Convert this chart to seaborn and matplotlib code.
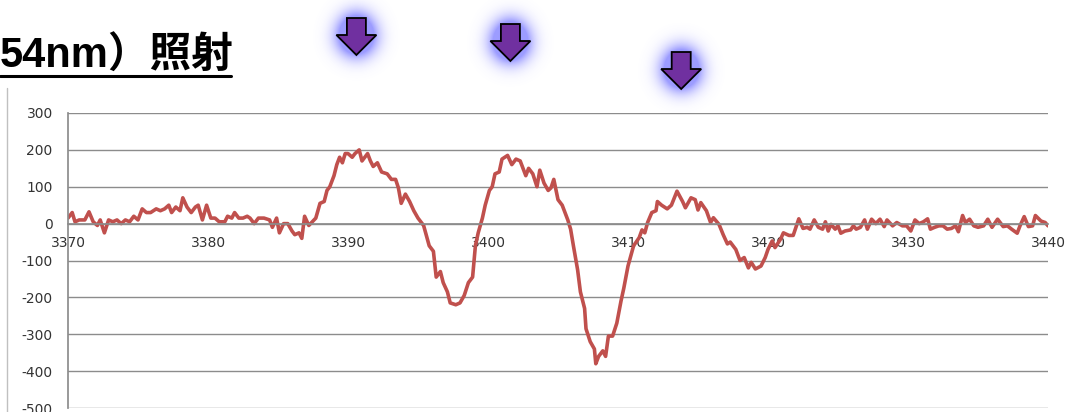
import numpy as np
import pandas as pd
import matplotlib
matplotlib.use("Agg")
import matplotlib.pyplot as plt
import seaborn as sns
from matplotlib.path import Path
from matplotlib.patches import Polygon
from matplotlib.lines import Line2D

# 磁場 (G) と信号強度 — 画像から読み取った値
field = [
    3370.0, 3370.3, 3370.5, 3370.8, 3371.2, 3371.5, 3371.8, 3372.1, 3372.3, 3372.6,
    3372.9, 3373.2, 3373.5, 3373.8, 3374.1, 3374.4, 3374.7, 3375.0, 3375.3, 3375.6,
    3375.9, 3376.3, 3376.6, 3376.9, 3377.2, 3377.4, 3377.7, 3378.0, 3378.2, 3378.5,
    3378.8, 3379.1, 3379.3, 3379.6, 3379.9, 3380.2, 3380.5, 3380.8, 3381.2, 3381.4,
    3381.7, 3381.9, 3382.2, 3382.5, 3382.8, 3383.0, 3383.3, 3383.6, 3384.0, 3384.4,
    3384.6, 3384.9, 3385.1, 3385.4, 3385.7, 3386.0, 3386.2, 3386.5, 3386.7, 3386.9,
    3387.2, 3387.7, 3388.0, 3388.3, 3388.5, 3388.7, 3389.0, 3389.2, 3389.4, 3389.6,
    3389.8, 3390.0, 3390.3, 3390.5, 3390.8, 3391.0, 3391.4, 3391.6, 3391.8, 3392.1,
    3392.4, 3392.8, 3393.1, 3393.4, 3393.6, 3393.8, 3394.1, 3394.4, 3394.7, 3395.0,
    3395.4, 3395.8, 3396.1, 3396.3, 3396.6, 3396.8, 3397.1, 3397.3, 3397.7, 3398.0,
    3398.3, 3398.6, 3398.9, 3399.1, 3399.3, 3399.6, 3399.8, 3400.1, 3400.3, 3400.5,
    3400.8, 3401.0, 3401.4, 3401.7, 3402.0, 3402.3, 3402.7, 3402.9, 3403.2, 3403.5,
    3403.7, 3404.0, 3404.3, 3404.5, 3404.7, 3405.0, 3405.3, 3405.7, 3405.9, 3406.1,
    3406.4, 3406.6, 3406.9, 3407.0, 3407.3, 3407.6, 3407.7, 3407.9, 3408.2, 3408.4,
    3408.6, 3408.9, 3409.2, 3409.5, 3409.7, 3410.0, 3410.4, 3410.8, 3411.0, 3411.2,
    3411.4, 3411.7, 3412.0, 3412.1, 3412.4, 3412.8, 3413.1, 3413.5, 3413.9, 3414.1,
    3414.5, 3414.8, 3415.0, 3415.2, 3415.6, 3415.9, 3416.1, 3416.5, 3416.8, 3417.1,
    3417.3, 3417.7, 3418.0, 3418.3, 3418.6, 3418.8, 3419.1, 3419.5, 3419.8, 3420.0,
    3420.3, 3420.5, 3420.9, 3421.1, 3421.5, 3421.8, 3422.2, 3422.5, 3422.8, 3423.0,
    3423.3, 3423.6, 3423.9, 3424.1, 3424.3, 3424.5, 3424.8, 3425.0, 3425.2, 3425.5,
    3425.9, 3426.1, 3426.3, 3426.6, 3426.9, 3427.1, 3427.4, 3427.7, 3428.0, 3428.3,
    3428.5, 3428.9, 3429.2, 3429.6, 3429.9, 3430.2, 3430.5, 3430.8, 3431.1, 3431.4,
    3431.6, 3431.9, 3432.2, 3432.5, 3432.8, 3433.1, 3433.4, 3433.6, 3433.9, 3434.1,
    3434.4, 3434.7, 3435.0, 3435.4, 3435.7, 3436.0, 3436.4, 3436.8, 3437.1, 3437.4,
    3437.8, 3438.0, 3438.3, 3438.6, 3438.9, 3439.1, 3439.5, 3439.8, 3440.0,
]
signal = [
    15, 30, 5, 10, 10, 32, 5, -5, 10, -25,
    10, 5, 10, 0, 10, 5, 20, 10, 40, 30,
    30, 40, 35, 40, 50, 30, 45, 35, 70, 45,
    30, 45, 50, 10, 50, 15, 15, 5, 5, 20,
    15, 30, 15, 15, 20, 15, 0, 15, 15, 10,
    -10, 15, -25, 0, 0, -20, -30, -25, -40, 20,
    -5, 15, 55, 60, 90, 100, 130, 160, 180, 165,
    190, 190, 180, 190, 200, 170, 190, 170, 155, 165,
    140, 135, 120, 120, 97, 55, 80, 60, 35, 15,
    -5, -60, -75, -145, -130, -160, -185, -215, -220, -215,
    -195, -160, -145, -60, -25, 15, 50, 90, 100, 135,
    140, 175, 185, 160, 175, 170, 130, 150, 135, 100,
    145, 110, 90, 97, 120, 65, 50, 10, -15, -60,
    -125, -185, -230, -285, -320, -340, -380, -360, -345, -360,
    -305, -305, -270, -210, -175, -115, -60, -38, -17, -25,
    3, 30, 35, 60, 50, 40, 50, 88, 60, 43,
    70, 65, 37, 57, 35, 3, 16, -2, -30, -55,
    -50, -70, -100, -92, -120, -105, -123, -115, -92, -70,
    -47, -65, -42, -25, -32, -32, 13, -13, -10, -15,
    10, -10, -15, 5, -20, -2, -15, -6, -26, -20,
    -17, -6, -15, -10, 10, -15, 12, 0, 12, -8,
    10, -6, 3, -6, -6, -20, 10, 0, 5, 13,
    -15, -10, -6, -6, -15, -13, -6, -22, 22, 3,
    12, -6, -10, -6, 12, -10, 12, -8, -6, -15,
    -26, -6, 19, -8, -6, 22, 7, 3, -6,
]
x_ticks = list(range(3370, 3441, 10))
y_ticks = list(range(-500, 301, 100))
peak_fields = [3390.6, 3401.6, 3413.8]   # 矢印が指すピーク
title_text = "54nm）照射"

df = pd.DataFrame({"field": field, "signal": signal})

W, H = 1069, 412
sns.set_theme(style="white")
plt.rcParams["font.family"] = ["DejaVu Sans", "Noto Sans CJK JP"]
plt.rcParams["axes.unicode_minus"] = False

fig = plt.figure(figsize=(W / 100, H / 100), dpi=100)
ax = fig.add_axes([68 / W, 4 / H, 980 / W, 295 / H])

sns.lineplot(data=df, x="field", y="signal", ax=ax, color="#C0504D",
             linewidth=2.6, estimator=None, sort=False)

ax.set_xlim(3370, 3440)
ax.set_ylim(-500, 300)
ax.set_xticks(x_ticks)
ax.set_yticks(y_ticks)
ax.set_xlabel("")
ax.set_ylabel("")
ax.yaxis.grid(True, color="#8c8c8c", linewidth=1)
ax.xaxis.grid(False)
ax.set_axisbelow(True)
for s in ["top", "right"]:
    ax.spines[s].set_visible(False)
ax.spines["bottom"].set_position(("data", 0))
ax.spines["bottom"].set_color("#8c8c8c")
ax.spines["left"].set_color("#8c8c8c")
ax.tick_params(axis="both", direction="out", length=4, width=1, color="#8c8c8c",
               labelsize=10, labelcolor="#333333")
ax.tick_params(axis="y", pad=7)
ax.tick_params(axis="x", pad=5)

# オーバーレイ (ピクセル座標)
ov = fig.add_axes([0, 0, 1, 1], zorder=5)
ov.set_xlim(0, W)
ov.set_ylim(H, 0)
ov.axis("off")
ov.patch.set_alpha(0)

# 左の枠線
ov.add_line(Line2D([7, 7], [88, H], color="#c0c0c0", linewidth=1))

# タイトル
txt = fig.text(0.0, 1 - 68 / H, title_text, fontsize=30, fontweight="bold",
               family=["Liberation Sans", "Noto Sans CJK JP"], color="black",
               va="baseline", ha="left")
fig.canvas.draw()
bb = txt.get_window_extent()
ov.add_line(Line2D([bb.x0, bb.x1 - 3], [75.5, 75.5], color="black", linewidth=2.2))

# 矢印 (グロー付き)
arrow_tips = [55, 61, 89]
polys = []
for pf, tip in zip(peak_fields, arrow_tips):
    cx = ax.transData.transform((pf, 0))[0]
    top = tip - 37
    mid = tip - 20
    pts = [(cx - 9.5, top), (cx + 9.5, top), (cx + 9.5, mid), (cx + 20, mid),
           (cx, tip), (cx - 20, mid), (cx - 9.5, mid)]
    polys.append(pts)

yy, xx = np.mgrid[0:H, 0:W]
grid_pts = np.column_stack([xx.ravel() + 0.5, yy.ravel() + 0.5])
mask = np.zeros(H * W)
for pts in polys:
    mask += Path(pts + [pts[0]]).contains_points(grid_pts)
mask = mask.reshape(H, W).astype(float)


def blur(img, sigma):
    r = int(3 * sigma)
    k = np.exp(-0.5 * (np.arange(-r, r + 1) / sigma) ** 2)
    k /= k.sum()
    img = np.apply_along_axis(lambda v: np.convolve(v, k, mode="same"), 0, img)
    img = np.apply_along_axis(lambda v: np.convolve(v, k, mode="same"), 1, img)
    return img


glow = blur(mask, 12)
alpha = np.clip(glow * 4.0, 0, 1) ** 1.2 * 0.7
rgba = np.zeros((H, W, 4))
rgba[..., 0] = 0.45
rgba[..., 1] = 0.45
rgba[..., 2] = 1.0
rgba[..., 3] = alpha
ov.imshow(rgba, extent=(0, W, H, 0), interpolation="bilinear", zorder=1, aspect="auto")
ov.set_xlim(0, W)
ov.set_ylim(H, 0)
for pts in polys:
    ov.add_patch(Polygon(pts, closed=True, facecolor="#7030A0", edgecolor="black",
                         linewidth=1.3, zorder=2))

fig.savefig("out.png", dpi=100)
